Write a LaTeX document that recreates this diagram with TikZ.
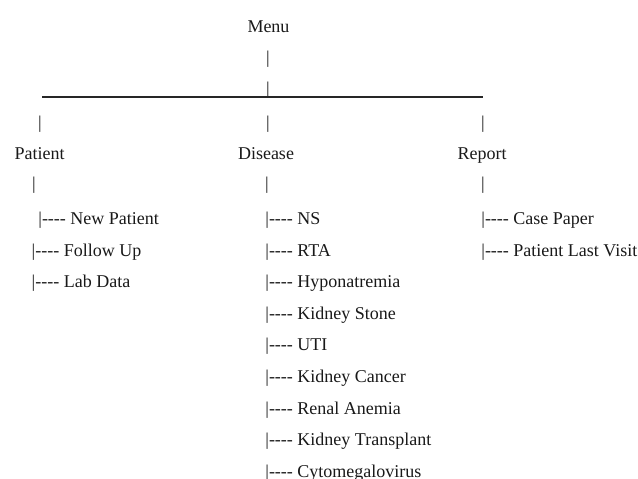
\documentclass[tikz,border=0pt]{standalone}
\usepackage{fontspec}
\setmainfont{Liberation Serif}
\newcommand\treeprefix{|-\kern0pt-\kern0pt-\kern0pt-\ }
\begin{document}
\begin{tikzpicture}[x=1pt,y=-1pt,
  txt/.style={inner sep=0pt, font=\fontsize{18}{20}\selectfont, text=black!90},
  item/.style={txt, anchor=base west},
  head/.style={txt, anchor=base},
  hline/.style={line width=1.2pt, draw=black!85}]
\useasboundingbox (0,0) rectangle (638,479);
% root
\node[head] (menu) at (268.5,32) {Menu};
\node[head] (b1) at (268,63) {|};
\node[head] (b2) at (268,94) {|};
\coordinate (hl) at (42,97);
\coordinate (hr) at (483,97);
\draw[hline] (hl) -- (hr);
\node[head] (b3) at (40,128) {|};
\node[head] (b4) at (268,128) {|};
\node[head] (b5) at (483,128) {|};
% level 1
\node[head] (patient) at (39.5,159) {Patient};
\node[head] (disease) at (266,159) {Disease};
\node[head] (report) at (482,159) {Report};
\node[head] (b6) at (34,189) {|};
\node[head] (b7) at (267,189) {|};
\node[head] (b8) at (483,189) {|};
% patient list
\node[item] (p1) at (38.2,224) {\treeprefix New Patient};
\node[item] (p2) at (31.5,256) {\treeprefix Follow Up};
\node[item] (p3) at (31.5,287) {\treeprefix Lab Data};
% disease list
\node[item] (d1) at (265.2,224) {\treeprefix NS};
\node[item] (d2) at (265.2,256) {\treeprefix RTA};
\node[item] (d3) at (265.2,287) {\treeprefix Hyponatremia};
\node[item] (d4) at (265.2,319) {\treeprefix Kidney Stone};
\node[item] (d5) at (265.2,350) {\treeprefix UTI};
\node[item] (d6) at (265.2,382) {\treeprefix Kidney Cancer};
\node[item] (d7) at (265.2,414) {\treeprefix Renal Anemia};
\node[item] (d8) at (265.2,445) {\treeprefix Kidney Transplant};
\node[item] (d9) at (265.2,477) {\treeprefix Cytomegalovirus};
% report list
\node[item] (r1) at (481.2,224) {\treeprefix Case Paper};
\node[item] (r2) at (481.2,256) {\treeprefix Patient Last Visit};
\end{tikzpicture}
\end{document}
